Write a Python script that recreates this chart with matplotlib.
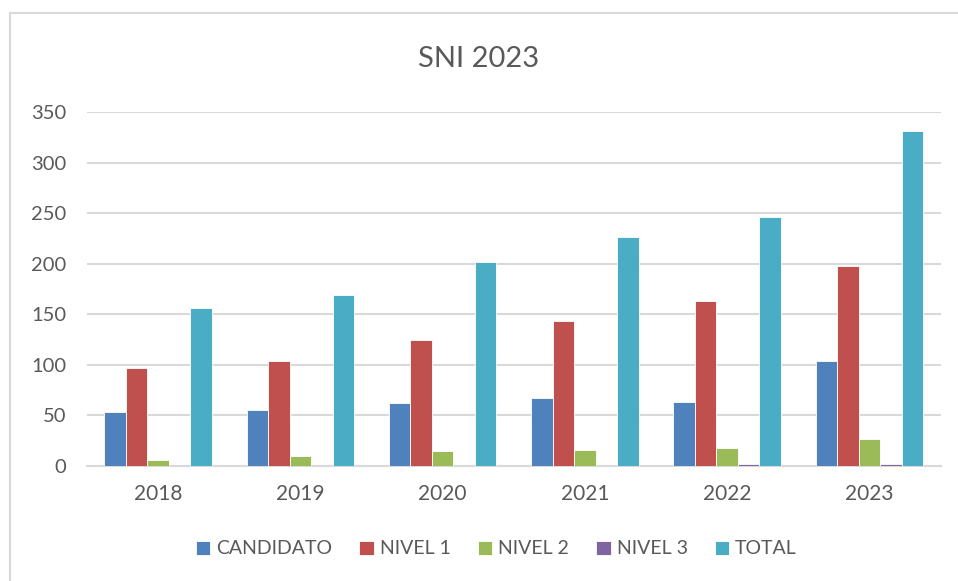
import matplotlib
matplotlib.use("Agg")
import matplotlib.pyplot as plt
from matplotlib.lines import Line2D
import numpy as np

years = ["2018", "2019", "2020", "2021", "2022", "2023"]
series_names = ["CANDIDATO", "NIVEL 1", "NIVEL 2", "NIVEL 3", "TOTAL"]
candidato = [53, 55, 62, 67, 63, 104]
nivel1 = [97, 104, 125, 143, 163, 198]
nivel2 = [6, 10, 15, 16, 18, 27]
nivel3 = [0, 0, 0, 0, 2, 2]
total = [156, 169, 202, 226, 246, 331]
colors = ["#4F81BD", "#C0504D", "#9BBB59", "#8064A2", "#4BACC6"]

text_color = "#595959"
plt.rcParams["font.family"] = ["Lato", "DejaVu Sans"]

fig = plt.figure(figsize=(9.58, 5.81), dpi=100)
ax = fig.add_axes([0.0908, 0.198, 0.891, 0.609])

x = np.arange(len(years))
width = 0.151
all_series = [candidato, nivel1, nivel2, nivel3, total]
for i, (name, vals) in enumerate(zip(series_names, all_series)):
    offset = (i - 2) * width
    ax.bar(x + offset, vals, width, color=colors[i], edgecolor="white",
           linewidth=0.6, label=name, zorder=3)

ax.set_xlim(-0.5, len(years) - 0.5)
ax.set_ylim(0, 350)
ax.set_yticks(range(0, 351, 50))
ax.set_xticks(x)
ax.set_xticklabels(years)
ax.grid(axis="y", color="#D9D9D9", linewidth=1.5, zorder=0)
for s in ["top", "right", "left"]:
    ax.spines[s].set_visible(False)
ax.spines["bottom"].set_color("#D9D9D9")
ax.spines["bottom"].set_linewidth(1.5)
ax.spines["bottom"].set_zorder(1)
ax.tick_params(axis="y", length=0, pad=15, labelsize=14.5, labelcolor=text_color)
ax.tick_params(axis="x", length=0, pad=13, labelsize=15, labelcolor=text_color)

fig.text(0.5, 0.899, "SNI 2023", ha="center", va="center", fontsize=21,
         color=text_color)

ax.legend(loc="center", bbox_to_anchor=(0.518, 1 - 549 / 581), bbox_transform=fig.transFigure,
          ncol=5, frameon=False, prop={"size": 14},
          labelcolor=text_color, handlelength=0.75, handleheight=0.75,
          handletextpad=0.3, columnspacing=1.4)

# chart border (left and top visible)
fig.add_artist(Line2D([10 / 958, 10 / 958], [0, 1 - 13 / 581], transform=fig.transFigure,
                      color="#D9D9D9", linewidth=1.5))
fig.add_artist(Line2D([10 / 958, 1], [1 - 13 / 581, 1 - 13 / 581], transform=fig.transFigure,
                      color="#D9D9D9", linewidth=1.5))

fig.savefig("out.png", dpi=100)
